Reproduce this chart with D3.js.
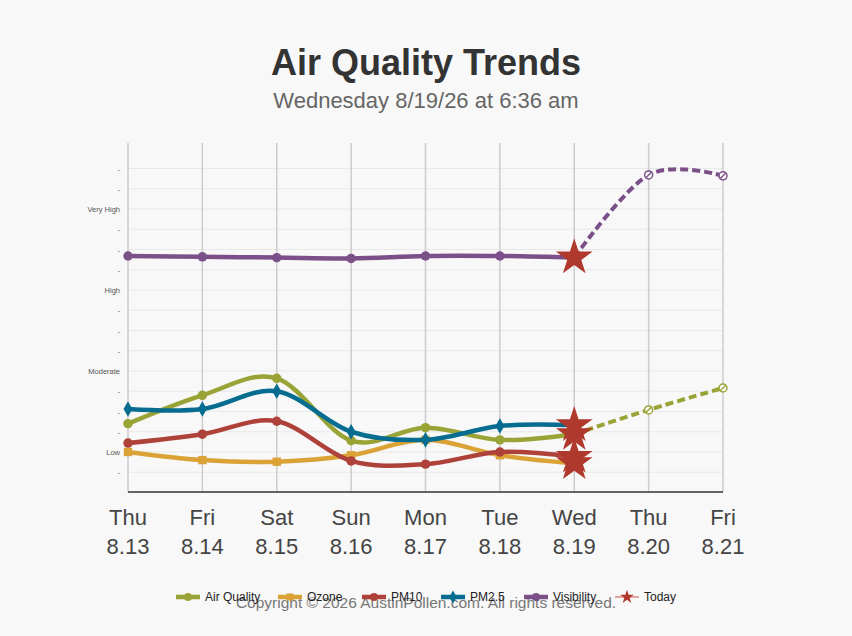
<!DOCTYPE html>
<html><head><meta charset="utf-8">
<script src="https://cdn.jsdelivr.net/npm/d3@7"></script>
<style>body{margin:0;background:#f8f8f8;font-family:"Liberation Sans",Arial,sans-serif}</style>
</head><body><svg id="c" width="852" height="636"></svg>
<script>
const days = ['Thu','Fri','Sat','Sun','Mon','Tue','Wed','Thu','Fri'];
const dates = ['8.13','8.14','8.15','8.16','8.17','8.18','8.19','8.20','8.21'];
const levels = [{v:1,t:'Low'},{v:2,t:'Moderate'},{v:3,t:'High'},{v:4,t:'Very High'}];
const airQuality = [1.35,1.70,1.91,1.14,1.30,1.15,1.22];
const airQualityFc = [1.22,1.52,1.79];
const ozone = [1.0,0.90,0.88,0.96,1.15,0.96,0.86];
const pm10 = [1.11,1.22,1.38,0.89,0.85,1.0,0.94];
const pm25 = [1.53,1.53,1.75,1.25,1.15,1.32,1.33];
const visibility = [3.42,3.41,3.40,3.39,3.42,3.42,3.40];
const visibilityFc = [3.40,4.42,4.41];
const today = 6;

const series = [
  {name:'Air Quality',color:'#9aa336',vals:airQuality,fc:airQualityFc,sym:d3.symbolCircle},
  {name:'Ozone',color:'#dba236',vals:ozone,sym:d3.symbolSquare},
  {name:'PM10',color:'#ae413a',vals:pm10,sym:d3.symbolCircle},
  {name:'PM2.5',color:'#066c90',vals:pm25,sym:d3.symbolDiamond},
  {name:'Visibility',color:'#7b5088',vals:visibility,fc:visibilityFc,sym:d3.symbolCircle}
];

const svg = d3.select('#c');
svg.append('text').attr('x',426).attr('y',75).attr('text-anchor','middle')
  .attr('font-size',36).attr('font-weight','bold').attr('fill','#333').text('Air Quality Trends');
svg.append('text').attr('x',426).attr('y',108).attr('text-anchor','middle')
  .attr('font-size',22).attr('fill','#666').text('Wednesday 8/19/26 at 6:36 am');

const x = d3.scalePoint().domain(d3.range(days.length)).range([128,723]);
const y = d3.scaleLinear().domain([1-40/81, 1+309/81]).range([492,143]);
const ticks = d3.range(0.75,4.51,0.25);

const g = svg.append('g');
g.selectAll('.hg').data(ticks).join('line').attr('x1',128).attr('x2',723)
  .attr('y1',d=>y(d)).attr('y2',d=>y(d)).attr('stroke','#e8e8e8');
g.selectAll('.yl').data(ticks).join('text').attr('x',120).attr('y',d=>y(d)+3)
  .attr('text-anchor','end').attr('font-size',d=>Number.isInteger(d)?7.5:7).attr('fill','#555')
  .text(d=>{const l=levels.find(l=>l.v===d);return l?l.t:'-';});
g.selectAll('.vg').data(d3.range(days.length)).join('line').attr('x1',d=>x(d)).attr('x2',d=>x(d))
  .attr('y1',143).attr('y2',492).attr('stroke','#ccc').attr('stroke-width',1.5);
g.append('line').attr('x1',128).attr('x2',723).attr('y1',492).attr('y2',492).attr('stroke','#333').attr('stroke-width',1.5);
g.selectAll('.xd').data(d3.range(days.length)).join('text').attr('x',d=>x(d)).attr('y',525)
  .attr('text-anchor','middle').attr('font-size',22).attr('fill','#444').text(d=>days[d]);
g.selectAll('.xt').data(d3.range(days.length)).join('text').attr('x',d=>x(d)).attr('y',554)
  .attr('text-anchor','middle').attr('font-size',22).attr('fill','#444').text(d=>dates[d]);

const line = d3.line().x(d=>x(d[0])).y(d=>y(d[1])).curve(d3.curveCardinal.tension(0));
series.forEach(s=>{
  if (s.fc) {
    const pts = s.fc.map((v,i)=>[today+i,v]);
    g.append('path').attr('d',line(pts)).attr('fill','none').attr('stroke',s.color)
      .attr('stroke-width',4).attr('stroke-dasharray','8,4');
    pts.slice(1).forEach(p=>{
      g.append('circle').attr('cx',x(p[0])).attr('cy',y(p[1])).attr('r',4)
        .attr('fill','#fff').attr('stroke',s.color).attr('stroke-width',1.5);
      g.append('line').attr('x1',x(p[0])-3).attr('x2',x(p[0])+3).attr('y1',y(p[1])+3).attr('y2',y(p[1])-3)
        .attr('stroke',s.color).attr('stroke-width',1.5);
    });
  }
  const pts = s.vals.map((v,i)=>[i,v]);
  g.append('path').attr('d',line(pts)).attr('fill','none').attr('stroke',s.color).attr('stroke-width',4.5);
  g.selectAll(null).data(pts.slice(0,today)).join('path')
    .attr('transform',d=>`translate(${x(d[0])},${y(d[1])})`)
    .attr('d',d3.symbol(s.sym,70)).attr('fill',s.color);
});
const star = d3.symbol(d3.symbolStar,420);
series.forEach(s=>{
  g.append('path').attr('transform',`translate(${x(today)},${y(s.vals[today])})`)
    .attr('d',star).attr('fill','#b0392e');
});

svg.append('text').attr('x',426).attr('y',608).attr('text-anchor','middle')
  .attr('font-size',15.5).attr('fill','#777').text('Copyright © 2026 AustinPollen.com.  All rights reserved.');
const leg = [...series.map(s=>({name:s.name,color:s.color,sym:s.sym})),{name:'Today',color:'#b0392e',sym:d3.symbolStar,today:true}];
const lx = [176,278,362,441,524,615];
leg.forEach((l,i)=>{
  const lg = svg.append('g').attr('transform',`translate(${lx[i]},597)`);
  lg.append('line').attr('x1',0).attr('x2',24).attr('stroke',l.today?'#d88':l.color).attr('stroke-width',l.today?1.5:4.5);
  lg.append('path').attr('transform','translate(12,0)').attr('d',d3.symbol(l.sym,l.today?60:50)).attr('fill',l.color);
  lg.append('text').attr('x',29).attr('y',4).attr('font-size',12).attr('fill','#222').text(l.name);
});
</script></body></html>
